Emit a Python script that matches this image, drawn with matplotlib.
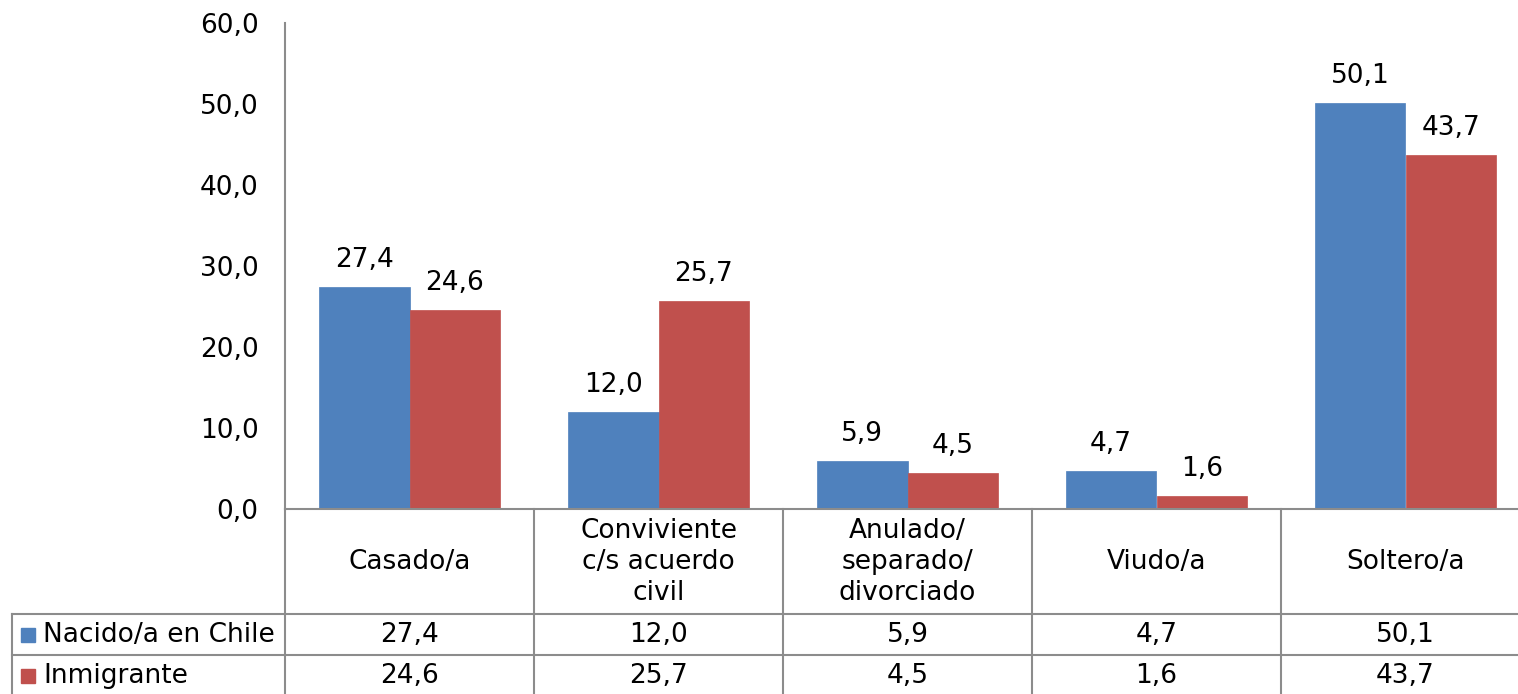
import numpy as np
import matplotlib.pyplot as plt
from matplotlib.patches import Rectangle

# datos
categorias = ["Casado/a", "Conviviente\nc/s acuerdo\ncivil", "Anulado/\nseparado/\ndivorciado", "Viudo/a", "Soltero/a"]
series = ["Nacido/a en Chile", "Inmigrante"]
chile = [27.4, 12.0, 5.9, 4.7, 50.1]
inmigrante = [24.6, 25.7, 4.5, 1.6, 43.7]
colores = ["#4F81BD", "#C0504D"]

def fmt(v):
    return ("%.1f" % v).replace(".", ",")

plt.rcParams['font.family'] = ['Verdana', 'DejaVu Sans']
fs = 19
grid_c = "#8c8c8c"

W, H = 1518, 694
fig = plt.figure(figsize=(W / 100, H / 100), dpi=100)
left, right, top, bottom = 285, 1530, 23, 509
ax = fig.add_axes([left / W, (H - bottom) / H, (right - left) / W, (bottom - top) / H])

x = np.arange(len(categorias))
bw = 0.365
b1 = ax.bar(x - bw / 2, chile, bw, color=colores[0], edgecolor=colores[0], lw=0.5)
b2 = ax.bar(x + bw / 2, inmigrante, bw, color=colores[1], edgecolor=colores[1], lw=0.5)
for bars, vals in ((b1, chile), (b2, inmigrante)):
    for r, v in zip(bars, vals):
        ax.annotate(fmt(v), (r.get_x() + r.get_width() / 2, v), xytext=(0, 10),
                    textcoords="offset points", ha="center", va="bottom", fontsize=fs)

ax.set_xlim(-0.5, 4.5)
ax.set_ylim(0, 60)
ax.set_yticks(np.arange(0, 61, 10))
ax.set_yticklabels([fmt(v) for v in np.arange(0, 61, 10)], fontsize=fs)
ax.tick_params(axis="y", length=0, pad=19)
ax.set_xticks([])
for s in ["top", "right", "bottom"]:
    ax.spines[s].set_visible(False)
ax.spines["left"].set_color(grid_c)
ax.spines["left"].set_linewidth(1.5)

# tabla de datos
px = bottom - top  # alto en pixeles
def ay(p):
    return (bottom - p) / px

tr = ax.get_xaxis_transform()
y0, y1, y2, y3 = 0, ay(614), ay(655), ay(700)
xl = -0.5 - (left - 12) / ((right - left) / 5)
kw = dict(color=grid_c, lw=1.5, transform=tr, clip_on=False)
ax.plot([-0.5, 4.5], [y0, y0], **kw)
ax.plot([xl, 4.5], [y1, y1], **kw)
ax.plot([xl, 4.5], [y2, y2], **kw)
ax.plot([-0.5, -0.5], [y0, y3], **kw)
ax.plot([xl, xl], [y1, y3], **kw)
for b in np.arange(0.5, 4.6, 1):
    ax.plot([b, b], [y0, y3], **kw)

for i, c in enumerate(categorias):
    ax.text(i, ay(562), c, transform=tr, ha="center", va="center", fontsize=fs,
            linespacing=1.25, clip_on=False)
for row, (nombre, vals, col) in enumerate(zip(series, (chile, inmigrante), colores)):
    ypix = 635 if row == 0 else 676
    for i, v in enumerate(vals):
        ax.text(i, ay(ypix), fmt(v), transform=tr, ha="center", va="center", fontsize=fs, clip_on=False)
    fig.patches.append(Rectangle((21 / W, (H - ypix - 7) / H), 14 / W, 14 / H, color=col,
                                 transform=fig.transFigure))
    fig.text(43 / W, (H - ypix) / H, nombre, ha="left", va="center", fontsize=fs)

fig.savefig("out.png", dpi=100)
